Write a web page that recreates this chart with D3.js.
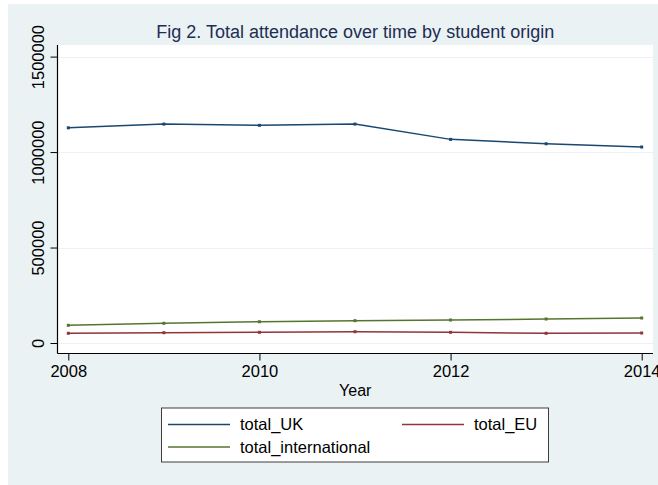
<!DOCTYPE html>
<html>
<head>
<meta charset="utf-8">
<script src="https://cdn.jsdelivr.net/npm/d3@7"></script>
<style>
  body { margin: 0; background: #ffffff; }
  svg { display: block; font-family: "Liberation Sans", Arial, Helvetica, sans-serif; }
</style>
</head>
<body>
<div id="chart"></div>
<script>
// Données
const years = [2008, 2009, 2010, 2011, 2012, 2013, 2014];
const totalUK = [1127000, 1146500, 1140000, 1146500, 1066500, 1043500, 1026500];
const totalEU = [50800, 53900, 56000, 59200, 56000, 50800, 52400];
const totalInternational = [92700, 103100, 111500, 117000, 120400, 125700, 130900];
const yTicks = [0, 500000, 1000000, 1500000];
const xTicks = [2008, 2010, 2012, 2014];

const series = [
    { name: "total_UK", values: totalUK, color: "#1a476f" },
    { name: "total_EU", values: totalEU, color: "#90353b" },
    { name: "total_international", values: totalInternational, color: "#55752f" }
];

const width = 658, height = 485;
const plot = { left: 57.5, right: 653, top: 45, bottom: 353.5 };

const svg = d3.select("#chart")
    .append("svg")
    .attr("width", width)
    .attr("height", height);

// fond du graphique (région extérieure)
svg.append("rect")
    .attr("x", 8).attr("y", 4)
    .attr("width", width - 8).attr("height", height - 4)
    .attr("fill", "#eaf2f3");

// région du tracé
svg.append("rect")
    .attr("x", plot.left).attr("y", plot.top)
    .attr("width", plot.right - plot.left)
    .attr("height", plot.bottom - plot.top)
    .attr("fill", "#ffffff");

// échelles
const x = d3.scaleLinear().domain([2008, 2014]).range([68.3, 641.7]);
const y = d3.scaleLinear().domain([0, 1500000]).range([343, 56.6]);

// lignes de grille
svg.append("g")
    .selectAll("line")
    .data(yTicks)
    .enter()
    .append("line")
    .attr("x1", plot.left).attr("x2", plot.right)
    .attr("y1", d => Math.round(y(d)) + 0.5)
    .attr("y2", d => Math.round(y(d)) + 0.5)
    .style("stroke", "#eaf2f3")
    .style("stroke-width", 1.2);

// axe Y
const yAxis = svg.append("g")
    .attr("transform", `translate(${plot.left},0)`)
    .call(d3.axisLeft(y).tickValues(yTicks).tickSize(7).tickPadding(0).tickFormat(d3.format("d")));
yAxis.select(".domain")
    .attr("d", `M0,${plot.top}V${plot.bottom}`)
    .style("stroke", "#000").style("stroke-width", 1.2);
yAxis.selectAll(".tick line").style("stroke", "#000").style("stroke-width", 1);
yAxis.selectAll(".tick text")
    .attr("x", null).attr("dy", null)
    .attr("transform", "translate(-14,0) rotate(-90)")
    .attr("text-anchor", "middle")
    .style("font-size", "16.5px")
    .style("font-family", "'Liberation Sans', Arial, sans-serif")
    .style("fill", "#000");

// axe X
const xAxis = svg.append("g")
    .attr("transform", `translate(0,${plot.bottom})`)
    .call(d3.axisBottom(x).tickValues(xTicks).tickSize(7).tickPadding(5).tickFormat(d3.format("d")));
xAxis.select(".domain")
    .attr("d", `M${plot.left},0H${plot.right}`)
    .style("stroke", "#000").style("stroke-width", 1.2);
xAxis.selectAll(".tick line").style("stroke", "#000").style("stroke-width", 1);
xAxis.selectAll(".tick text")
    .style("font-size", "16.5px")
    .style("font-family", "'Liberation Sans', Arial, sans-serif")
    .style("fill", "#000");

// titre de l'axe X
svg.append("text")
    .attr("x", (plot.left + plot.right) / 2)
    .attr("y", 396)
    .attr("text-anchor", "middle")
    .style("font-size", "16px")
    .text("Year");

// titre
svg.append("text")
    .attr("x", (plot.left + plot.right) / 2)
    .attr("y", 38)
    .attr("text-anchor", "middle")
    .style("font-size", "18px")
    .style("fill", "#1e2d53")
    .text("Fig 2. Total attendance over time by student origin");

// courbes
const line = d3.line()
    .x((d, i) => x(years[i]))
    .y(d => y(d));

const lines = svg.append("g");
series.forEach(s => {
    lines.append("path")
        .datum(s.values)
        .attr("d", line)
        .attr("fill", "none")
        .style("stroke", s.color)
        .style("stroke-width", 1.5);

    // petits marqueurs aux points
    lines.selectAll(null)
        .data(s.values)
        .enter()
        .append("rect")
        .attr("x", (d, i) => x(years[i]) - 1.5)
        .attr("y", d => y(d) - 1.5)
        .attr("width", 3)
        .attr("height", 3)
        .attr("fill", s.color);
});

// légende
const legend = svg.append("g");
legend.append("rect")
    .attr("x", 161.5).attr("y", 408)
    .attr("width", 387).attr("height", 54)
    .attr("fill", "#ffffff")
    .style("stroke", "#3c3c3c")
    .style("stroke-width", 1);

const legendPos = [
    { key: [168, 230], text: 240, y: 424.5 },
    { key: [402, 464], text: 474, y: 424.5 },
    { key: [168, 230], text: 240, y: 447 }
];

series.forEach((s, i) => {
    const p = legendPos[i];
    legend.append("line")
        .attr("x1", p.key[0]).attr("x2", p.key[1])
        .attr("y1", p.y).attr("y2", p.y)
        .style("stroke", s.color)
        .style("stroke-width", 1.5);
    legend.append("text")
        .attr("x", p.text)
        .attr("y", p.y + 5.8)
        .style("font-size", "16.5px")
        .text(s.name);
});
</script>
</body>
</html>
